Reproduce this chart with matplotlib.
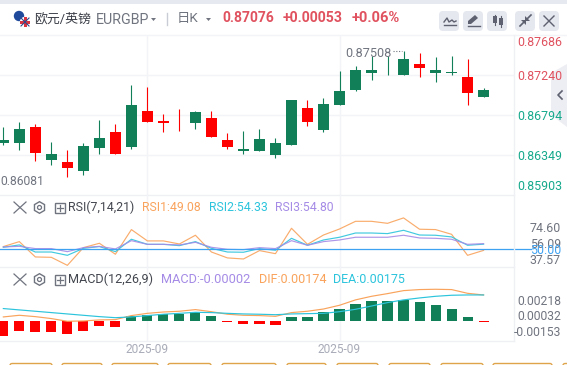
import matplotlib
matplotlib.use('Agg')
import numpy as np
import matplotlib.pyplot as plt
from matplotlib.patches import FancyBboxPatch, Circle, Rectangle, Polygon, RegularPolygon

# candles, oldest first
opens = [0.86485, 0.86478, 0.86664, 0.86288, 0.86274, 0.86166, 0.86422, 0.86608, 0.86433, 0.86842,
         0.86731, 0.86664, 0.86708, 0.86764, 0.86519, 0.86389, 0.86389, 0.86344, 0.86463, 0.86876,
         0.86623, 0.86902, 0.87069, 0.87259, 0.87281, 0.87236, 0.87366, 0.87259, 0.87262, 0.87221, 0.86991]
highs = [0.86664, 0.86720, 0.86697, 0.86497, 0.86407, 0.86485, 0.86742, 0.86697, 0.87132, 0.87110,
         0.86809, 0.86865, 0.86842, 0.86842, 0.86597, 0.86619, 0.86642, 0.86541, 0.86965, 0.86965,
         0.86987, 0.87288, 0.87344, 0.87448, 0.87448, 0.87511, 0.87489, 0.87444, 0.87456, 0.87422, 0.87099]
lows = [0.86456, 0.86400, 0.86277, 0.86233, 0.86099, 0.86121, 0.86355, 0.86355, 0.86411, 0.86712,
        0.86601, 0.86612, 0.86634, 0.86545, 0.86411, 0.86355, 0.86389, 0.86311, 0.86456, 0.86668,
        0.86601, 0.86902, 0.87058, 0.87181, 0.87236, 0.87236, 0.87214, 0.87158, 0.87236, 0.86902, 0.86991]
closes = [0.86519, 0.86642, 0.86367, 0.86363, 0.86199, 0.86452, 0.86541, 0.86355, 0.86909, 0.86712,
          0.86701, 0.86656, 0.86831, 0.86545, 0.86433, 0.86419, 0.86530, 0.86485, 0.86965, 0.86712,
          0.86920, 0.87065, 0.87300, 0.87300, 0.87288, 0.87422, 0.87314, 0.87300, 0.87266, 0.87036, 0.87076]

rsi1 = [52.3, 56.5, 43.5, 43.2, 36.4, 51.4, 55.1, 45.8, 66.7, 57.1, 57.1, 54.5, 61.9, 47.7, 42.7, 41.8,
        48.9, 46.3, 67.8, 54.2, 62.1, 67.2, 73.7, 73.7, 72.0, 76.6, 67.0, 66.7, 62.7, 44.9, 49.08]
rsi2 = [51.7, 53.7, 47.7, 47.7, 44.9, 50.8, 52.3, 48.0, 58.5, 54.2, 54.2, 53.1, 56.5, 50.8, 47.7, 47.5,
        50.6, 49.2, 59.3, 53.4, 57.9, 60.2, 63.8, 63.8, 63.3, 66.1, 62.1, 61.9, 60.5, 53.4, 54.33]
rsi3 = [52.0, 52.5, 50.6, 50.6, 48.0, 51.4, 52.5, 50.3, 57.3, 54.2, 54.2, 53.7, 55.9, 51.7, 50.0, 49.7,
        51.4, 50.6, 57.3, 53.4, 56.5, 57.9, 60.2, 60.2, 60.2, 61.9, 59.6, 59.3, 58.5, 54.2, 54.80]

macd_hist = [-0.00100, -0.00067, -0.00074, -0.00074, -0.00087, -0.00067, -0.00033, -0.00040, 0.00031, 0.00040,
             0.00047, 0.00045, 0.00060, 0.00033, -0.00007, -0.00020, -0.00020, -0.00027, 0.00027, 0.00027,
             0.00058, 0.00080, 0.00114, 0.00134, 0.00134, 0.00141, 0.00127, 0.00107, 0.00080, 0.00027, -0.00004]
dif = [0.00027, 0.00038, 0.00029, 0.00016, -0.00002, 0.00000, 0.00007, 0.00009, 0.00036, 0.00051,
       0.00060, 0.00065, 0.00076, 0.00062, 0.00045, 0.00038, 0.00036, 0.00031, 0.00056, 0.00065,
       0.00080, 0.00105, 0.00141, 0.00165, 0.00183, 0.00203, 0.00210, 0.00212, 0.00210, 0.00185, 0.00174]
dea = [0.00083, 0.00074, 0.00065, 0.00056, 0.00047, 0.00038, 0.00029, 0.00022, 0.00027, 0.00036,
       0.00045, 0.00051, 0.00058, 0.00056, 0.00051, 0.00047, 0.00045, 0.00042, 0.00047, 0.00049,
       0.00051, 0.00062, 0.00078, 0.00100, 0.00123, 0.00141, 0.00154, 0.00165, 0.00172, 0.00174, 0.00174]

grid_prices = [0.87240, 0.86794, 0.86349]
price_labels = ['0.87686', '0.87240', '0.86794', '0.86349', '0.85903']
rsi_labels = ['74.60', '56.09', '50.00', '37.57']
macd_labels = ['0.00218', '0.00032', '-0.00153']
month_ticks = [9, 21]

UP = '#118058'
DOWN = '#ff0000'
GRID = '#f3f4f7'
GREY = '#70747f'
ORANGE = '#f9a35c'
CYAN = '#2cc4dc'
PURPLE = '#a58be6'
RED_TXT = '#e0525f'
GREEN_TXT = '#16a98c'
FONT = ['Roboto', 'Noto Sans CJK SC', 'DejaVu Sans']

plt.rcParams['font.family'] = FONT
W, H = 567, 365
fig = plt.figure(figsize=(W / 100, H / 100), dpi=100, facecolor='white')


def panel(top, bottom, ylim):
    ax = fig.add_axes([0, 1 - bottom / H, 514 / W, (bottom - top) / H])
    ax.set_xlim(-0.208, 31.9)
    ax.set_ylim(*ylim)
    ax.set_xticks(month_ticks)
    ax.set_xticklabels([])
    ax.tick_params(length=0)
    ax.grid(True, axis='x', color=GRID, lw=1)
    ax.set_axisbelow(True)
    ax.patch.set_alpha(0)
    for s in ['top', 'left', 'right']:
        ax.spines[s].set_visible(False)
    ax.spines['bottom'].set_color('#eef0f4')
    ax.spines['bottom'].set_linewidth(1)
    return ax


x = np.arange(len(closes))

# price panel
ax1 = panel(35, 195, (0.85903, 0.87686))
ax1.set_yticks(grid_prices)
ax1.set_yticklabels([])
ax1.grid(True, axis='y', color=GRID, lw=1)
for i in x:
    c = UP if closes[i] >= opens[i] else DOWN
    ax1.vlines(i, lows[i], highs[i], color=c, lw=0.8, zorder=3)
    lo, hi = sorted([opens[i], closes[i]])
    ax1.bar(i, max(hi - lo, 0.00009), bottom=lo, width=0.69, color=c, zorder=3)

# RSI panel
ax2 = panel(195, 267, (35.0, 96.0))
ax2.set_yticks([])
for s, c in [(rsi1, ORANGE), (rsi2, CYAN), (rsi3, PURPLE)]:
    ax2.plot(x, s, color=c, lw=0.85, alpha=0.9, zorder=3)
ax2.axhline(50, xmin=0, xmax=531 / 514, color='#3ea2f2', lw=0.9, clip_on=False, zorder=4)

# MACD panel
ax3 = panel(267, 341, (-0.00134, 0.00361))
ax3.set_yticks([])
hist_colors = [UP if v >= 0 else DOWN for v in macd_hist]
ax3.bar(x, macd_hist, width=0.63, color=hist_colors, zorder=2)
ax3.plot(x, dif, color=ORANGE, lw=0.85, zorder=3)
ax3.plot(x, dea, color=CYAN, lw=0.85, zorder=3)

# overlay in pixel coordinates: header, labels, icons
ov = fig.add_axes([0, 0, 1, 1], zorder=10)
ov.set_xlim(0, W)
ov.set_ylim(H, 0)
ov.axis('off')
ov.patch.set_alpha(0)

ov.add_patch(Rectangle((0, 0), W, 3.5, color='#e6e9ef', lw=0))
ov.plot([0, W], [35, 35], color='#f3f4f7', lw=1)
ov.plot([514, 514], [35, 341], color='#eef0f4', lw=1)

# flags
ov.add_patch(Circle((19, 16), 5.2, color='#1f4a9c', lw=0))
ov.add_patch(Circle((25, 22), 5.2, color='white', lw=0))
ov.add_patch(Rectangle((20, 20.5), 10, 3, color='#d8333f', lw=0))
ov.add_patch(Rectangle((23.5, 17), 3, 10, color='#d8333f', lw=0))
ov.plot([21, 29], [18, 26], color='#2b4a8f', lw=0.8)
ov.plot([21, 29], [26, 18], color='#2b4a8f', lw=0.8)

ov.text(34, 19, '欧元/英镑', fontsize=9.3, color='#3a3d46', va='center', ha='left')
ov.text(96, 20, 'EURGBP', fontsize=10.3, color=GREY, va='center', ha='left')
ov.add_patch(Polygon([[151, 18], [156, 18], [153.5, 21]], color=GREY, lw=0))
ov.plot([167, 167], [13, 25], color='#c9ccd4', lw=1)
ov.text(177, 18.5, '日K', fontsize=9.6, color=GREY, va='center', ha='left')
ov.add_patch(Polygon([[206, 18], [211, 18], [208.5, 21]], color=GREY, lw=0))
ov.text(222, 18.5, '0.87076', fontsize=10, fontweight='bold', color=RED_TXT, va='center', ha='left')
ov.text(283, 18.5, '+0.00053', fontsize=10.2, fontweight='bold', color=RED_TXT, va='center', ha='left')
ov.text(352, 18.5, '+0.06%', fontsize=10.5, fontweight='bold', color=RED_TXT, va='center', ha='left')

# toolbar buttons
for bx in [439, 463, 487, 515, 539]:
    ov.add_patch(FancyBboxPatch((bx + 2, 13), 16, 16, boxstyle='round,pad=2,rounding_size=4',
                                fc='#e6e8ef', ec='none'))
ic = '#5d6170'
ov.plot([444, 447, 449, 452, 454, 456], [22, 18, 22, 20, 22, 21], color=ic, lw=1)
ov.plot([444, 456], [25, 25], color=ic, lw=1)
ov.add_patch(Polygon([[468, 24], [468, 21], [475, 15], [478, 18], [471, 24]], color=ic, lw=0))
ov.plot([468, 480], [25.5, 25.5], color=ic, lw=1)
ov.add_patch(Rectangle((493, 16), 3.5, 7, color=ic, lw=0))
ov.add_patch(Rectangle((499, 18), 3.5, 7, color=ic, lw=0))
ov.plot([494.8, 494.8], [15, 25], color=ic, lw=0.8)
ov.plot([500.8, 500.8], [16, 27], color=ic, lw=0.8)
ov.plot([520, 524], [26, 22], color=ic, lw=1.2)
ov.plot([527, 531], [19, 15], color=ic, lw=1.2)
ov.add_patch(Polygon([[521, 20], [526, 20], [526, 25]], color=ic, lw=0))
ov.add_patch(Polygon([[525, 16], [525, 21], [530, 21]], color=ic, lw=0))
ov.plot([544, 554], [16, 26], color=ic, lw=1)
ov.plot([544, 554], [26, 16], color=ic, lw=1)

# price labels
pl_y = [43, 76, 116, 157, 186]
pl_c = [RED_TXT, RED_TXT, GREEN_TXT, GREEN_TXT, GREEN_TXT]
for lab, yy, c in zip(price_labels, pl_y, pl_c):
    ov.text(517, yy, lab, fontsize=8.9, color=c, va='center', ha='left')
ov.text(0, 181.5, '0.86081', fontsize=8.7, color=GREY, va='center', ha='left')
ov.text(345, 53.5, '0.87508', fontsize=9.1, color=GREY, va='center', ha='left')
ov.plot([393, 402], [51, 51], color=GREY, lw=0.8, ls=(0, (1, 1.5)))

# right side tab
ov.add_patch(Polygon([[567, 64], [551, 73], [551, 115], [567, 127]], color='#e8e9f0', alpha=0.75, lw=0))
ov.plot([562, 558, 562], [91, 95, 99], color=ic, lw=1.2)

# RSI / MACD labels
for lab, yy, c in zip(rsi_labels, [229, 244, 251, 260], [GREY, GREY, '#3ea2f2', GREY]):
    ov.text(561, yy, lab, fontsize=8.9, color=c, va='center', ha='right')
for lab, yy in zip(macd_labels, [301.7, 316.7, 332]):
    ov.text(561, yy, lab, fontsize=8.7, color=GREY, va='center', ha='right')


def panel_icons(yc):
    ov.plot([14, 26], [yc - 5.5, yc + 5.5], color=GREY, lw=0.9)
    ov.plot([14, 26], [yc + 5.5, yc - 5.5], color=GREY, lw=0.9)
    ov.add_patch(RegularPolygon((39.5, yc), 6, radius=5.8, fc='none', ec=GREY, lw=1))
    ov.add_patch(Circle((39.5, yc), 2, fc='none', ec=GREY, lw=0.9))
    ov.add_patch(Rectangle((54.5, yc - 5), 10.5, 10.5, fc='none', ec=GREY, lw=1))
    ov.plot([56.5, 63], [yc, yc], color=GREY, lw=0.9)
    ov.plot([59.8, 59.8], [yc - 3, yc + 3], color=GREY, lw=0.9)


panel_icons(207.5)
panel_icons(279.5)
ov.text(68, 207.5, 'RSI(7,14,21)', fontsize=8.9, color='#44474f', va='center', ha='left')
ov.text(142, 207.5, 'RSI1:49.08', fontsize=8.8, color=ORANGE, va='center', ha='left')
ov.text(209, 207.5, 'RSI2:54.33', fontsize=8.8, color=CYAN, va='center', ha='left')
ov.text(275, 207.5, 'RSI3:54.80', fontsize=8.8, color=PURPLE, va='center', ha='left')
ov.text(68, 279.5, 'MACD(12,26,9)', fontsize=9.1, color='#44474f', va='center', ha='left')
ov.text(161, 279.5, 'MACD:-0.00002', fontsize=9.2, color=PURPLE, va='center', ha='left')
ov.text(259, 279.5, 'DIF:0.00174', fontsize=9.1, color=ORANGE, va='center', ha='left')
ov.text(333, 279.5, 'DEA:0.00175', fontsize=9.0, color=CYAN, va='center', ha='left')

# month labels
ov.text(147, 349.5, '2025-09', fontsize=8.6, color='#a9acb8', va='center', ha='center')
ov.text(339, 349.5, '2025-09', fontsize=8.6, color='#a9acb8', va='center', ha='center')

# cut-off tags along the bottom
for x0, x1 in [(10, 52), (62, 102), (112, 158), (168, 211), (222, 276), (287, 326),
               (337, 378), (389, 430), (441, 483), (493, 552), (563, 580)]:
    ov.add_patch(FancyBboxPatch((x0, 363.5), x1 - x0, 8, boxstyle='round,pad=0,rounding_size=2',
                                fc='none', ec='#dfa44a', lw=1))

fig.savefig('out.png', dpi=100)
